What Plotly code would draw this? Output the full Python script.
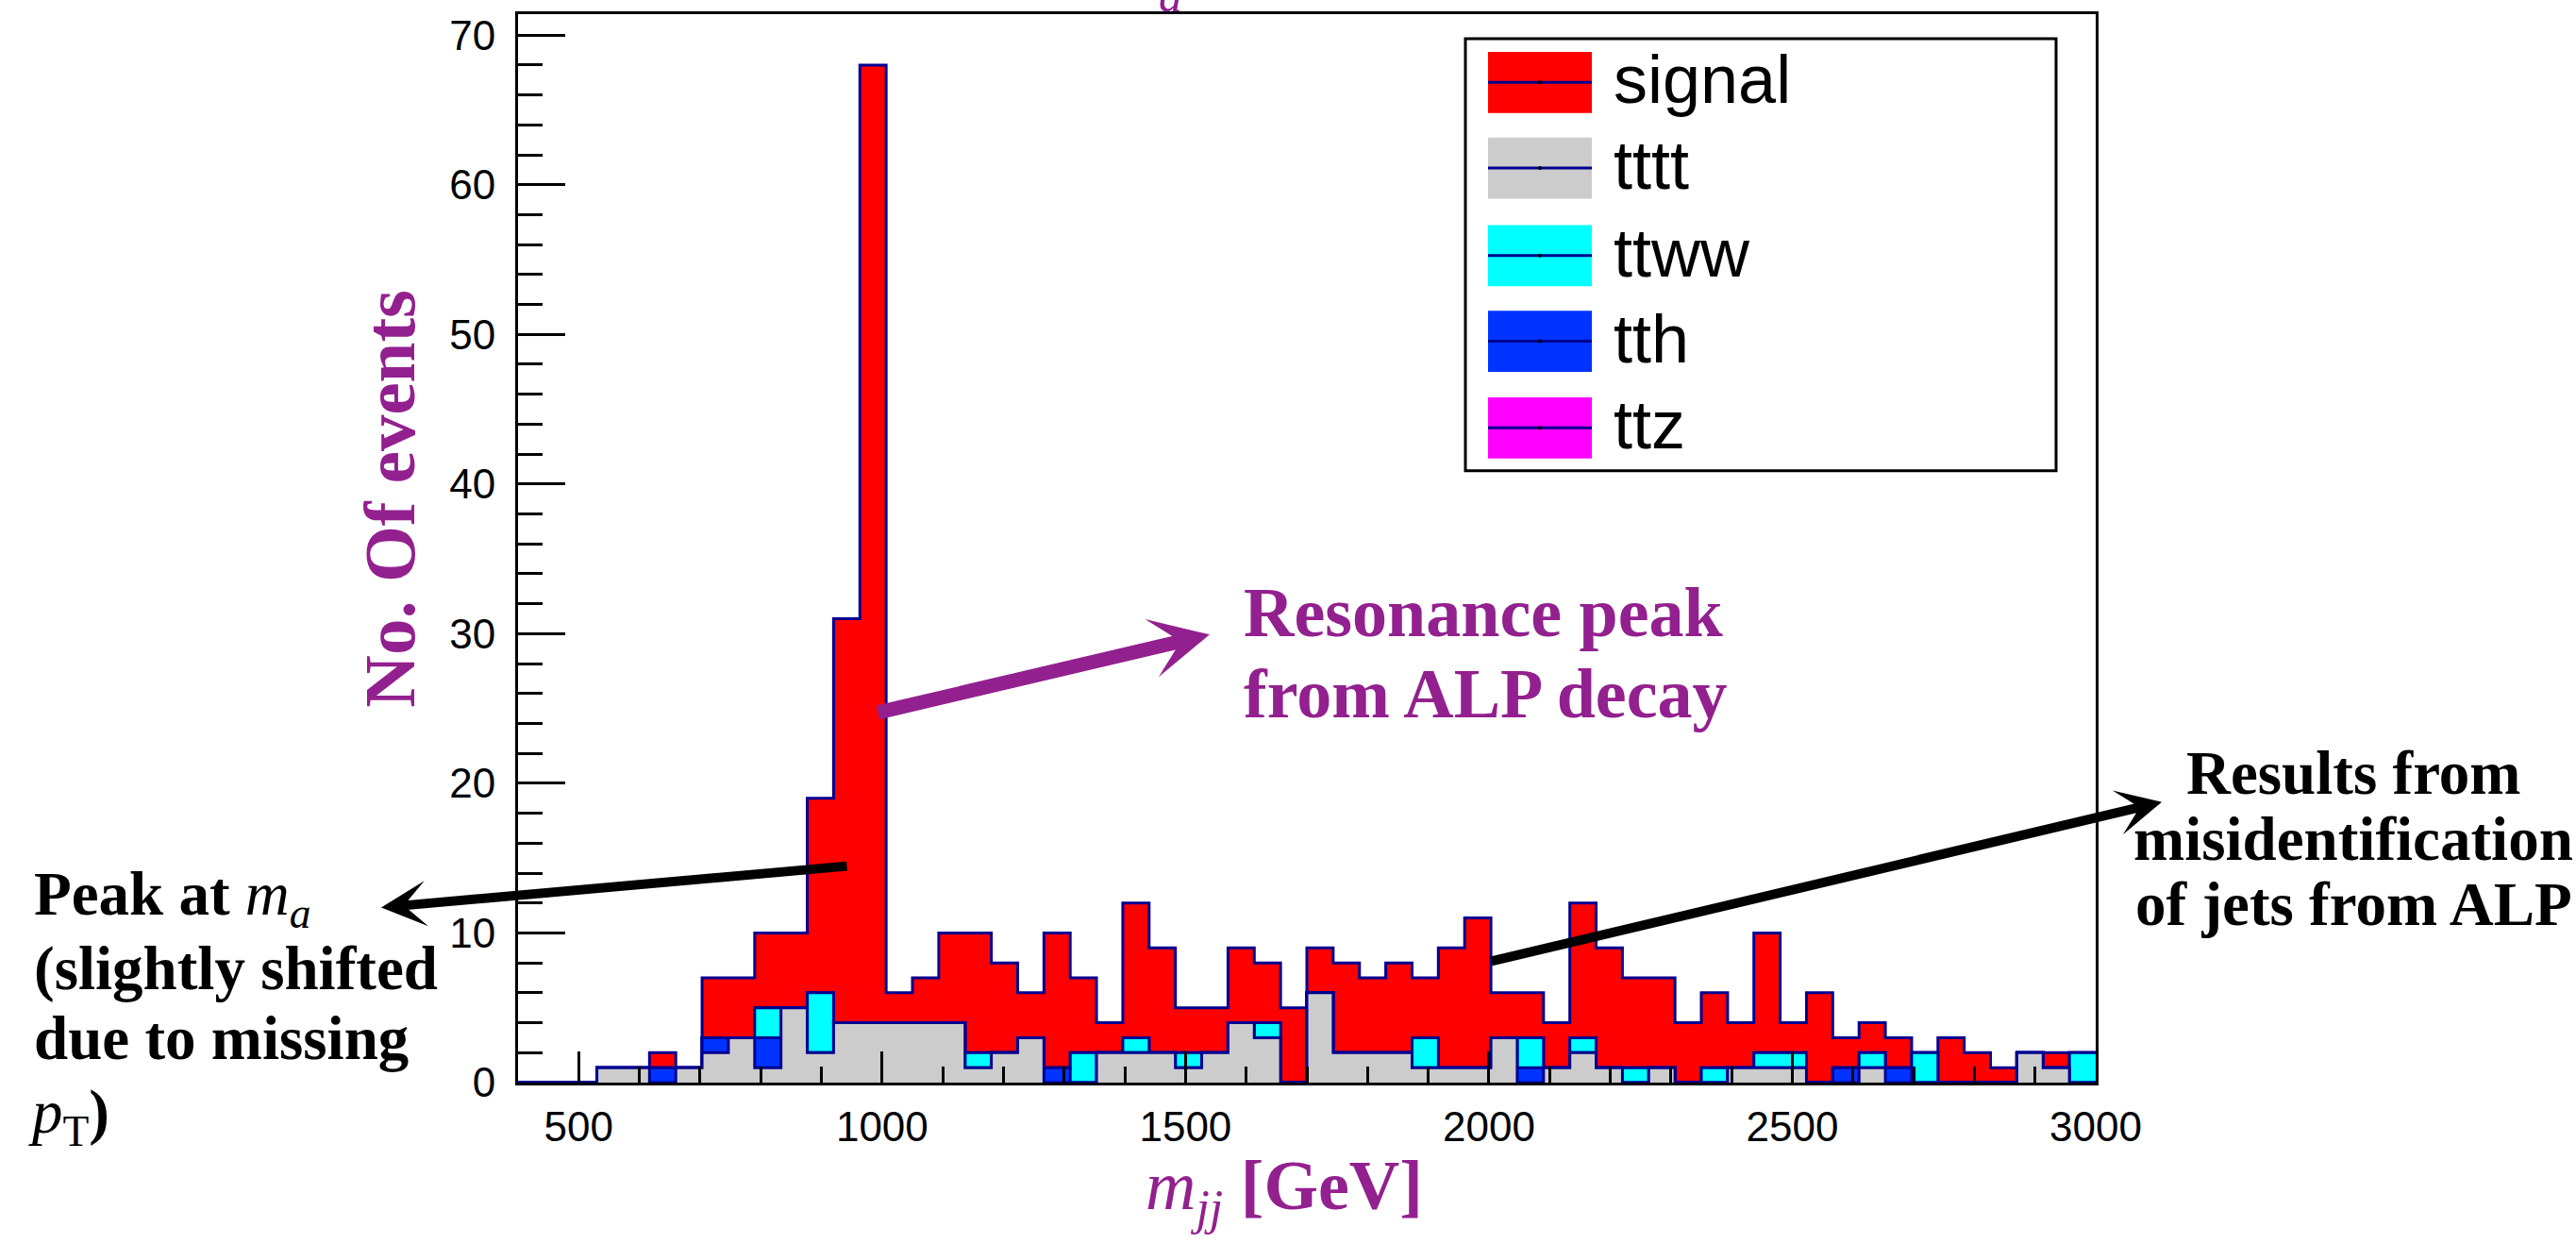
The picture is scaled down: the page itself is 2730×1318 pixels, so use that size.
import numpy as np
import plotly.graph_objects as go

# ---------------------------------------------------------------- data
# m_jj histogram: 60 bins between 400 and 3000 GeV
X_MIN, X_MAX, N_BINS = 400, 3000, 60

signal = [0, 0, 0, 0, 0, 1, 0, 4, 4, 5,
          5, 13, 27, 64, 2, 3, 6, 8, 6, 3,
          9, 5, 2, 9, 7, 3, 3, 5, 4, 5,
          3, 6, 5, 6, 4, 8, 10, 3, 3, 3,
          9, 8, 6, 6, 4, 5, 3, 8, 2, 6,
          2, 2, 2, 0, 3, 2, 1, 0, 1, 0]
tttt = [0, 0, 0, 1, 1, 0, 1, 2, 3, 1,
        5, 2, 4, 4, 4, 4, 4, 1, 2, 3,
        0, 0, 2, 2, 2, 1, 2, 4, 3, 0,
        6, 2, 2, 2, 1, 1, 1, 3, 0, 1,
        2, 1, 0, 1, 0, 0, 1, 1, 1, 0,
        0, 1, 0, 0, 0, 0, 0, 2, 1, 0]
ttww = [0, 0, 0, 0, 0, 0, 0, 0, 0, 2,
        0, 4, 0, 0, 0, 0, 0, 1, 0, 0,
        0, 2, 0, 1, 0, 1, 0, 0, 1, 0,
        0, 0, 0, 0, 2, 0, 0, 0, 2, 0,
        1, 0, 1, 0, 0, 1, 0, 1, 1, 0,
        0, 1, 0, 2, 0, 0, 0, 0, 0, 2]
tth = [0, 0, 0, 0, 0, 1, 0, 1, 0, 2,
       0, 0, 0, 0, 0, 0, 0, 0, 0, 0,
       1, 0, 0, 0, 0, 0, 0, 0, 0, 0,
       0, 0, 0, 0, 0, 0, 0, 0, 1, 0,
       0, 0, 0, 0, 0, 0, 0, 0, 0, 0,
       1, 0, 1, 0, 0, 0, 0, 0, 0, 0]
ttz = [0, 0, 0, 0, 0, 0, 0, 0, 0, 0,
       0, 0, 0, 0, 0, 0, 0, 0, 0, 0,
       0, 0, 0, 0, 0, 0, 0, 0, 0, 0,
       0, 0, 0, 0, 0, 0, 0, 0, 0, 0,
       0, 0, 0, 0, 0, 0, 0, 0, 0, 0,
       0, 0, 0, 0, 0, 0, 0, 0, 0, 0]

# stacking order, bottom to top
stack_names = ["tttt", "tth", "ttww", "ttz", "signal"]
stack_values = [tttt, tth, ttww, ttz, signal]
colors = {"signal": "#ff0000", "tttt": "#cccccc", "ttww": "#00ffff",
          "tth": "#0033ff", "ttz": "#ff00ff"}
legend_order = ["signal", "tttt", "ttww", "tth", "ttz"]

x_ticks = [500, 1000, 1500, 2000, 2500, 3000]
y_ticks = [0, 10, 20, 30, 40, 50, 60, 70]

# ---------------------------------------------------------------- layout geometry
W, H = 2730, 1318
L, R, T, B = 549, 2221, 12, 1147      # frame of the plotting area (page px)

def px(x):
    return (x - L) / (R - L)

def py(y):
    return (B - y) / (B - T)

OUTLINE = "#000090"
PURPLE = "#93208f"
SERIF = "Liberation Serif, Times New Roman, serif"
SANS = "Liberation Sans, Arial, Helvetica, sans-serif"

edges = np.linspace(X_MIN, X_MAX, N_BINS + 1)
cum = np.cumsum(np.array(stack_values, dtype=float), axis=0)
y_top = 1.05 * cum[-1].max()

fig = go.Figure()

# each cumulative level drawn as a filled step outline, tallest first
for name, level in reversed(list(zip(stack_names, cum))):
    fig.add_trace(go.Scatter(
        x=edges, y=np.append(level, level[-1]),
        mode="lines", line=dict(shape="hv", color=OUTLINE, width=3),
        fill="tozeroy", fillcolor=colors[name],
        name=name, showlegend=False, hoverinfo="skip"))

axis_common = dict(showline=True, linecolor="black", linewidth=3, mirror=True,
                   ticks="inside", tickcolor="black", tickwidth=3,
                   showgrid=False, zeroline=False,
                   tickfont=dict(family=SANS, size=44, color="black"))

fig.update_xaxes(range=[X_MIN, X_MAX], tickvals=x_ticks, ticklen=33,
                 ticklabelstandoff=6,
                 minor=dict(dtick=100, tick0=0, ticks="inside", ticklen=17,
                            tickwidth=3, tickcolor="black"),
                 **axis_common)
fig.update_yaxes(range=[0, y_top], tickvals=y_ticks, ticklen=50,
                 ticklabelstandoff=12,
                 minor=dict(dtick=2, tick0=0, ticks="inside", ticklen=26,
                            tickwidth=3, tickcolor="black"),
                 **axis_common)

shapes = []
annotations = []

def text(s, x, y, size, color="black", family=SERIF, xanchor="left",
         yanchor="middle", angle=0):
    annotations.append(dict(text=s, x=px(x), y=py(y), xref="paper", yref="paper",
                            xanchor=xanchor, yanchor=yanchor, showarrow=False,
                            textangle=angle,
                            font=dict(family=family, size=size, color=color)))

def arrow(tail, tip, color, width, head):
    annotations.append(dict(text="", x=px(tip[0]), y=py(tip[1]),
                            xref="paper", yref="paper", axref="pixel", ayref="pixel",
                            ax=tail[0] - tip[0], ay=tail[1] - tip[1],
                            showarrow=True, arrowhead=3, arrowcolor=color,
                            arrowwidth=width, arrowsize=head, standoff=0))

# ---------------------------------------------------------------- legend box
shapes.append(dict(type="rect", xref="paper", yref="paper",
                   x0=px(1553), x1=px(2179), y0=py(38), y1=py(497),
                   line=dict(color="black", width=3), fillcolor="white"))
row_tops = [52, 143, 236, 327, 419]
for name, top in zip(legend_order, row_tops):
    bot = top + 65
    mid = (top + bot) / 2
    shapes.append(dict(type="rect", xref="paper", yref="paper",
                       x0=px(1577), x1=px(1687), y0=py(top), y1=py(bot),
                       line=dict(width=0), fillcolor=colors[name]))
    shapes.append(dict(type="line", xref="paper", yref="paper",
                       x0=px(1577), x1=px(1687), y0=py(mid), y1=py(mid),
                       line=dict(color=OUTLINE, width=3)))
    shapes.append(dict(type="circle", xref="paper", yref="paper",
                       x0=px(1630), x1=px(1634), y0=py(mid - 2), y1=py(mid + 2),
                       line=dict(width=0), fillcolor="black"))
    text(name, 1708, mid - 3, 72, family=SANS)

# ---------------------------------------------------------------- axis titles
text("<i>m</i><sub><i>jj</i></sub> <b>[GeV]</b>", 1361, 1262, 74, color=PURPLE,
     xanchor="center")
text("<b>No. Of events</b>", 413, 527, 77, color=PURPLE, xanchor="center", angle=-90)
text("<i>a</i>", 1240, -8, 50, color=PURPLE, xanchor="center")

# ---------------------------------------------------------------- notes
arrow((929, 754), (1282, 671), PURPLE, 15, 0.7)
text("<b>Resonance peak</b>", 1316, 648, 74, color=PURPLE)
text("<b>from ALP decay</b>", 1316, 734, 74, color=PURPLE)

arrow((899, 917), (404, 961), "black", 10, 0.8)
text("<b>Peak at </b><i>m</i><sub><i>a</i></sub>", 34, 951, 65)
text("<b>(slightly shifted</b>", 34, 1026, 65)
text("<b>due to missing</b>", 34, 1100, 65)
text("<i>p</i><sub>T</sub><b>)</b>", 28, 1183, 65)

arrow((1579, 1018), (2291, 849), "black", 10, 0.8)
text("<b>Results from</b>", 2494, 818, 65, xanchor="center")
text("<b>misidentification</b>", 2494, 888, 65, xanchor="center")
text("<b>of jets from ALP</b>", 2494, 958, 65, xanchor="center")

fig.update_layout(width=W, height=H,
                  margin=dict(l=L, r=W - R, t=T, b=H - B, pad=0),
                  paper_bgcolor="white", plot_bgcolor="white",
                  showlegend=False, hovermode=False,
                  shapes=shapes, annotations=annotations)

fig.write_html("out.html")
